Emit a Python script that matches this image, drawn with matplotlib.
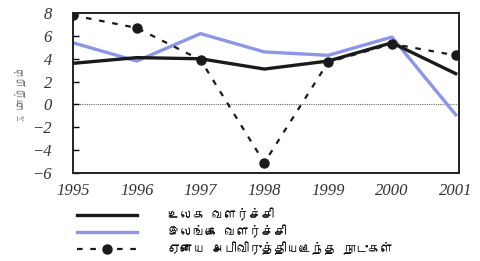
import matplotlib
matplotlib.use("Agg")
import matplotlib.pyplot as plt
from matplotlib import font_manager
from matplotlib.ft2font import FT2Font

# data
years = [1995, 1996, 1997, 1998, 1999, 2000, 2001]
world = [3.6, 4.1, 4.0, 3.1, 3.8, 5.4, 2.7]
sri_lanka = [5.4, 3.8, 6.2, 4.6, 4.3, 5.9, -0.9]
other_dev = [7.8, 6.7, 3.9, -5.1, 3.7, 5.3, 4.3]
labels = ["உலக வளர்ச்சி", "இலங்கை வளர்ச்சி", "ஏனைய அபிவிருத்தியடைந்த நாடுகள்"]
ylabel = "% மாற்றம்"

# find a font that has tamil glyphs
tamil_font = None
for f in font_manager.fontManager.ttflist:
    try:
        if 0x0B89 in FT2Font(f.fname).get_charmap():
            tamil_font = f.name
            break
    except Exception:
        pass
tfam = [tamil_font, "DejaVu Sans"] if tamil_font else ["DejaVu Sans"]

fig = plt.figure(figsize=(4.8, 2.61), dpi=100)
ax = fig.add_axes([0.152, 0.337, 0.804, 0.613])

ax.axhline(0, color="#666666", lw=0.8, ls=(0, (1, 1)), zorder=1)
l1, = ax.plot(years, world, color="#1a1a1a", lw=2.4, zorder=3)
l2, = ax.plot(years, sri_lanka, color="#8c96e8", lw=2.4, zorder=2)
l3, = ax.plot(years, other_dev, color="#1a1a1a", lw=1.6, ls=(0, (2.5, 3.5)),
              marker="o", ms=6.5, zorder=4)

ax.set_xlim(1995, 2001.05)
ax.set_ylim(-6, 8)
ax.set_yticks(range(-6, 9, 2))
ax.set_xticks(years)
ax.tick_params(axis="y", direction="in", length=4, width=1, pad=15)
ax.tick_params(axis="x", length=0, pad=7)
for lab in ax.get_xticklabels() + ax.get_yticklabels():
    lab.set_family("Liberation Serif")
    lab.set_style("italic")
    lab.set_fontsize(12)
    lab.set_color("#333333")
for s in ax.spines.values():
    s.set_linewidth(1.4)
    s.set_color("#222222")

ax.set_ylabel(ylabel, family=tfam, fontsize=8, color="#777777", labelpad=5)

leg = fig.legend([l1, l2, l3], labels, loc="upper left",
                 bbox_to_anchor=(0.16, 0.205), frameon=False,
                 prop={"family": tfam, "size": 9}, handlelength=4.8,
                 handletextpad=2.5, labelspacing=0.3, borderaxespad=0,
                 borderpad=0)

fig.savefig("out.png", dpi=100)
